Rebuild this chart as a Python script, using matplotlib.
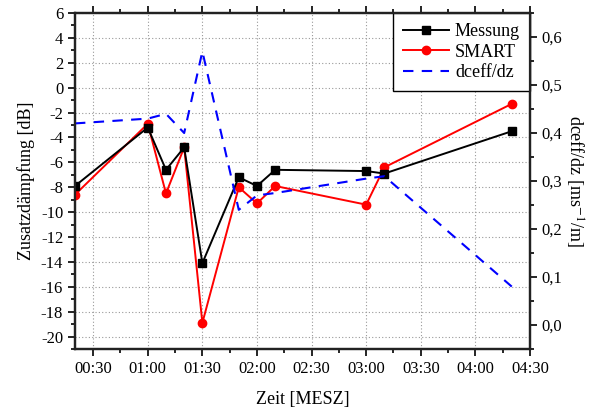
import matplotlib
matplotlib.use('Agg')
import matplotlib.pyplot as plt
from matplotlib.ticker import MultipleLocator, FuncFormatter

plt.rcParams['font.family'] = ['Liberation Serif', 'DejaVu Serif']
plt.rcParams['axes.unicode_minus'] = False
plt.rcParams['mathtext.fontset'] = 'stix'

# data
times = ['00:20', '01:00', '01:10', '01:20', '01:30', '01:50', '02:00', '02:10', '03:00', '03:10', '04:20']
messung = [-7.9, -3.2, -6.6, -4.8, -14.1, -7.2, -7.9, -6.6, -6.7, -6.9, -3.5]
smart = [-8.6, -2.9, -8.5, -4.8, -18.9, -8.0, -9.3, -7.9, -9.4, -6.4, -1.3]
dceff = [0.42, 0.43, 0.44, 0.40, 0.57, 0.24, 0.27, 0.275, 0.305, 0.31, 0.08]


def to_min(t):
    h, m = t.split(':')
    return int(h) * 60 + int(m)


def fmt_time(v, pos):
    v = int(round(v))
    return f'{v // 60:02d}:{v % 60:02d}'


x = [to_min(t) for t in times]

fig = plt.figure(figsize=(5.96, 4.07), dpi=100)
ax = fig.add_axes([0.1258, 0.1425, 0.7634, 0.8255])
ax2 = ax.twinx()

l1, = ax.plot(x, messung, color='black', marker='s', markersize=5.5, lw=1.4, label='Messung', zorder=4)
l2, = ax.plot(x, smart, color='red', marker='o', markersize=6, lw=1.4, label='SMART', zorder=3)
l3, = ax2.plot(x, dceff, color='blue', lw=1.5, dashes=(5, 4), label='dceff/dz')

ax.set_xlim(to_min('00:20'), to_min('04:30'))
ax.set_ylim(-21, 6)
ax2.set_ylim(-0.05, 0.65)

ax.xaxis.set_major_locator(MultipleLocator(30))
ax.xaxis.set_minor_locator(MultipleLocator(15))
ax.xaxis.set_major_formatter(FuncFormatter(fmt_time))
ax.yaxis.set_major_locator(MultipleLocator(2))
ax.yaxis.set_minor_locator(MultipleLocator(1))
ax2.yaxis.set_major_locator(MultipleLocator(0.1))
ax2.yaxis.set_minor_locator(MultipleLocator(0.05))
ax2.yaxis.set_major_formatter(FuncFormatter(lambda v, p: f'{v:.1f}'.replace('.', ',')))

ax.grid(True, which='major', color='#999999', linestyle=(0, (1, 2)), lw=0.8)
ax.set_axisbelow(True)

ax.tick_params(which='both', direction='out', top=True, labelsize=12, width=1.2)
ax.tick_params(which='major', length=5)
ax.tick_params(which='minor', length=3)
ax.tick_params(axis='x', which='minor', top=True)
ax2.tick_params(which='both', direction='out', labelsize=12, width=1.2, colors='black')
ax2.tick_params(which='major', length=5)
ax2.tick_params(which='minor', length=3)

for a in (ax, ax2):
    for s in a.spines.values():
        s.set_linewidth(1.6)
        s.set_color('#222222')

ax.set_xlabel('Zeit [MESZ]', fontsize=13, labelpad=10)
ax.set_ylabel('Zusatzdämpfung [dB]', fontsize=13, labelpad=4)
ax2.set_ylabel('dceff/dz [ms$^{-1}$/m]', fontsize=13, rotation=270, labelpad=16)

leg = ax.legend(handles=[l1, l2, l3], loc='upper right', fontsize=13, fancybox=False,
                framealpha=1, edgecolor='black', borderaxespad=0, handlelength=2.6,
                handletextpad=0.3, borderpad=0.55, labelspacing=0.2)
leg.get_frame().set_linewidth(1.0)
leg.set_zorder(10)

fig.savefig('out.png', dpi=100)
